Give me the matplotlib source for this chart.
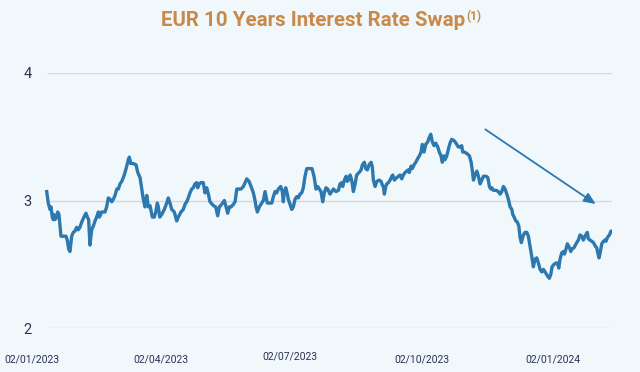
"""EUR 10Y interest rate swap, Jan 2023 - Feb 2024."""

import matplotlib

matplotlib.use("Agg")
import matplotlib.dates as mdates
import matplotlib.pyplot as plt
import matplotlib.transforms as mtransforms
import pandas as pd

START = "2023-01-02"

# days since START
days = [
    10.3, 11.4, 12.6, 13.3, 14.2, 14.9, 15.4, 16.1, 17.3, 18.0, 18.9, 19.6, 20.3, 21.9, 23.8,
    24.7, 25.7, 26.6, 27.8, 28.9, 30.1, 31.3, 32.4, 33.6, 34.8, 36.4, 37.8, 38.8, 39.7, 40.6,
    41.8, 43.0, 44.2, 45.3, 46.5, 47.2, 48.1, 48.8, 50.0, 51.2, 52.3, 53.5, 54.7, 55.9, 57.0,
    58.2, 59.4, 60.5, 61.7, 62.9, 64.0, 65.2, 66.4, 67.5, 68.2, 69.2, 71.0, 72.9, 74.1, 75.7,
    76.9, 78.0, 79.2, 80.4, 81.5, 82.7, 83.4, 84.3, 85.7, 86.7, 87.8, 88.5, 89.5, 90.9, 92.7,
    94.4, 95.5, 96.7, 97.9, 99.7, 101.4, 102.5, 104.4, 106.0, 107.2, 108.4, 109.5, 110.7, 111.9, 113.0,
    114.2, 115.4, 116.1, 117.2, 118.4, 120.0, 121.2, 122.4, 123.6, 124.7, 127.1, 128.7, 130.1, 131.3, 132.9,
    134.8, 136.0, 137.1, 138.3, 139.5, 141.1, 142.3, 143.5, 144.6, 146.5, 148.1, 150.5, 152.1, 153.5, 155.1,
    156.1, 157.0, 157.9, 159.3, 161.0, 162.1, 163.3, 164.0, 164.9, 166.3, 168.0, 169.1, 170.3, 171.5, 172.6,
    174.3, 175.4, 176.1, 176.8, 177.8, 178.9, 179.6, 180.8, 182.0, 183.1, 184.3, 185.5, 186.6, 187.8, 189.0,
    190.1, 191.3, 192.5, 194.3, 196.2, 197.6, 199.0, 200.2, 201.3, 202.5, 203.7, 204.8, 206.0, 207.2, 208.8,
    210.0, 211.2, 213.0, 214.7, 215.8, 217.0, 217.7, 218.9, 220.1, 221.0, 222.2, 222.9, 224.0, 225.2, 226.4,
    227.5, 229.2, 230.6, 231.5, 232.9, 233.9, 235.0, 236.2, 237.6, 238.5, 239.2, 240.4, 241.6, 243.2, 244.6,
    245.5, 246.2, 246.9, 247.9, 248.6, 249.7, 250.9, 252.1, 252.8, 253.9, 255.6, 256.7, 257.9, 259.1, 260.2,
    261.4, 262.6, 263.7, 264.4, 265.6, 266.5, 267.7, 268.9, 270.3, 271.4, 272.6, 273.5, 274.7, 275.9, 277.3,
    278.2, 279.4, 280.5, 281.7, 282.9, 284.3, 285.4, 286.6, 287.5, 288.5, 289.4, 290.6, 291.7, 292.9, 294.1,
    295.7, 297.1, 298.7, 299.9, 301.1, 301.8, 302.8, 304.6, 306.5, 307.7, 308.6, 309.3, 310.5, 311.7, 312.8,
    314.0, 315.2, 316.3, 318.2, 319.4, 320.5, 321.5, 322.2, 323.3, 325.2, 326.8, 328.0, 329.2, 330.3, 331.5,
    332.7, 333.8, 335.0, 336.2, 336.9, 337.8, 339.0, 340.1, 341.1, 342.0, 342.9, 344.3, 345.5, 346.7, 347.8,
    349.0, 350.2, 351.3, 352.5, 353.7, 354.8, 356.0, 357.2, 358.3, 359.5, 361.1, 362.5, 363.5, 364.4, 365.8,
    367.2, 368.1, 369.1, 370.0, 371.2, 372.4, 373.1, 374.2, 375.1, 376.6, 377.5, 378.4, 379.8, 381.2, 382.8,
    384.0, 385.2, 386.3, 387.5, 389.1, 389.8, 391.0, 392.2, 393.4, 394.8, 395.7, 396.4, 397.3, 398.3, 399.2,
    400.4, 401.5, 402.2, 403.2, 404.6, 405.7, 406.4,
]

rate = [
    3.07, 2.98, 2.93, 2.95, 2.87, 2.85, 2.89, 2.85, 2.87, 2.91, 2.89, 2.80, 2.72, 2.72, 2.72,
    2.69, 2.62, 2.60, 2.72, 2.75, 2.76, 2.79, 2.77, 2.79, 2.83, 2.87, 2.90, 2.87, 2.85, 2.65,
    2.77, 2.80, 2.84, 2.87, 2.91, 2.87, 2.89, 2.91, 2.91, 2.91, 2.95, 3.02, 3.01, 2.99, 3.01,
    3.04, 3.09, 3.09, 3.13, 3.15, 3.18, 3.22, 3.27, 3.32, 3.34, 3.29, 3.29, 3.28, 3.22, 3.18,
    3.09, 3.01, 2.95, 3.04, 2.95, 2.96, 2.92, 2.87, 2.87, 2.91, 2.98, 2.95, 2.87, 2.89, 2.93,
    2.98, 3.02, 2.98, 2.93, 2.91, 2.84, 2.87, 2.91, 2.93, 2.97, 2.99, 3.02, 3.06, 3.09, 3.10,
    3.13, 3.14, 3.10, 3.13, 3.14, 3.14, 3.06, 3.10, 3.05, 2.99, 2.96, 2.95, 2.88, 2.95, 2.97,
    3.00, 2.95, 2.90, 2.95, 2.95, 2.97, 2.99, 3.09, 3.09, 3.09, 3.11, 3.17, 3.15, 3.11, 3.06,
    3.01, 2.95, 2.91, 2.95, 2.98, 3.00, 3.07, 3.03, 2.98, 2.98, 2.98, 3.03, 3.07, 3.06, 3.09,
    3.11, 3.07, 2.99, 3.07, 3.10, 3.05, 3.01, 2.97, 2.93, 2.95, 3.01, 3.03, 3.02, 3.05, 3.06,
    3.10, 3.19, 3.25, 3.25, 3.25, 3.19, 3.09, 3.11, 3.09, 3.07, 2.99, 3.06, 3.10, 3.09, 3.05,
    3.07, 3.09, 3.07, 3.08, 3.13, 3.14, 3.11, 3.16, 3.19, 3.15, 3.17, 3.20, 3.16, 3.07, 3.13,
    3.20, 3.22, 3.24, 3.28, 3.30, 3.25, 3.24, 3.28, 3.30, 3.26, 3.16, 3.11, 3.15, 3.16, 3.15,
    3.12, 3.11, 3.05, 3.11, 3.13, 3.14, 3.16, 3.19, 3.20, 3.16, 3.18, 3.19, 3.20, 3.17, 3.20,
    3.22, 3.23, 3.24, 3.22, 3.27, 3.25, 3.28, 3.30, 3.33, 3.35, 3.38, 3.44, 3.38, 3.44, 3.46,
    3.49, 3.52, 3.46, 3.43, 3.45, 3.42, 3.38, 3.35, 3.30, 3.35, 3.32, 3.35, 3.40, 3.45, 3.48,
    3.47, 3.45, 3.42, 3.42, 3.43, 3.38, 3.38, 3.37, 3.35, 3.30, 3.23, 3.16, 3.20, 3.23, 3.19,
    3.13, 3.16, 3.19, 3.19, 3.18, 3.11, 3.09, 3.10, 3.08, 3.08, 3.07, 3.05, 3.07, 3.11, 3.09,
    3.05, 3.01, 2.95, 2.93, 2.89, 2.87, 2.84, 2.83, 2.80, 2.71, 2.67, 2.73, 2.75, 2.75, 2.72,
    2.64, 2.56, 2.48, 2.54, 2.55, 2.51, 2.46, 2.44, 2.46, 2.44, 2.41, 2.39, 2.42, 2.48, 2.50,
    2.51, 2.51, 2.47, 2.54, 2.59, 2.60, 2.58, 2.62, 2.66, 2.63, 2.60, 2.62, 2.63, 2.66, 2.69,
    2.73, 2.72, 2.69, 2.72, 2.75, 2.70, 2.69, 2.68, 2.67, 2.64, 2.63, 2.59, 2.55, 2.60, 2.66,
    2.68, 2.69, 2.68, 2.71, 2.73, 2.76, 2.76,
]

y_ticks = [2, 3, 4]
x_tick_dates = ["2023-01-02", "2023-04-02", "2023-07-02", "2023-10-02", "2024-01-02"]

# downward trend arrow: (days since START, rate)
trend_start = (316.0, 3.57)
trend_end = (396.6, 2.96)

BG = "#F1F8FB"
BLUE = "#2E78B0"
NAVY = "#2B3354"
GOLD = "#C8894A"

start = pd.Timestamp(START)
dates = start + pd.to_timedelta(days, unit="D")

fig = plt.figure(figsize=(6.4, 3.72), dpi=100, facecolor=BG)
ax = fig.add_axes([32 / 640, 44 / 372, 580 / 640, 255 / 372])
ax.set_facecolor(BG)

ax.hlines(y_ticks, dates[0], dates[-1], color="#D3D8DE", linewidth=1.0, zorder=1)
ax.plot(dates, rate, color=BLUE, linewidth=2.4, solid_joinstyle="round", zorder=3)

ax.annotate(
    "",
    xy=(start + pd.Timedelta(days=trend_end[0]), trend_end[1]),
    xytext=(start + pd.Timedelta(days=trend_start[0]), trend_start[1]),
    arrowprops=dict(arrowstyle="-|>,head_length=0.7,head_width=0.3", color=BLUE, lw=1.3),
    zorder=4,
)

ax.set_xlim(start, dates[-1])
ax.set_ylim(2, 4)
ax.set_yticks(y_ticks)
ax.set_yticklabels([str(v) for v in y_ticks])
ax.set_xticks(pd.to_datetime(x_tick_dates))
ax.xaxis.set_major_formatter(mdates.DateFormatter("%d/%m/%Y"))

for side in ax.spines.values():
    side.set_visible(False)
ax.tick_params(axis="x", length=0, pad=19, labelsize=7.5, labelcolor=NAVY)
ax.tick_params(axis="y", length=0, pad=0, labelsize=10.5, labelcolor=NAVY)
for lbl in ax.get_xticklabels() + ax.get_yticklabels():
    lbl.set_fontfamily("Roboto")

# the July label sits a little higher in the original
jul = ax.get_xticklabels()[2]
jul.set_transform(jul.get_transform() + mtransforms.ScaledTranslation(0, 3 / 100, fig.dpi_scale_trans))

title = fig.text(313 / 640, 1 - 21 / 372, "EUR 10 Years Interest Rate Swap", ha="center", va="center",
                 fontsize=14.8, fontweight="bold", color=GOLD, fontfamily="Roboto")
ax.annotate("(1)", xy=(1, 1), xycoords=title, xytext=(0.5, 1), textcoords="offset points",
            ha="left", va="top", fontsize=8.5, fontweight="bold", color=GOLD, fontfamily="Roboto")

fig.savefig("out.png", dpi=100, facecolor=BG)
plt.close(fig)
